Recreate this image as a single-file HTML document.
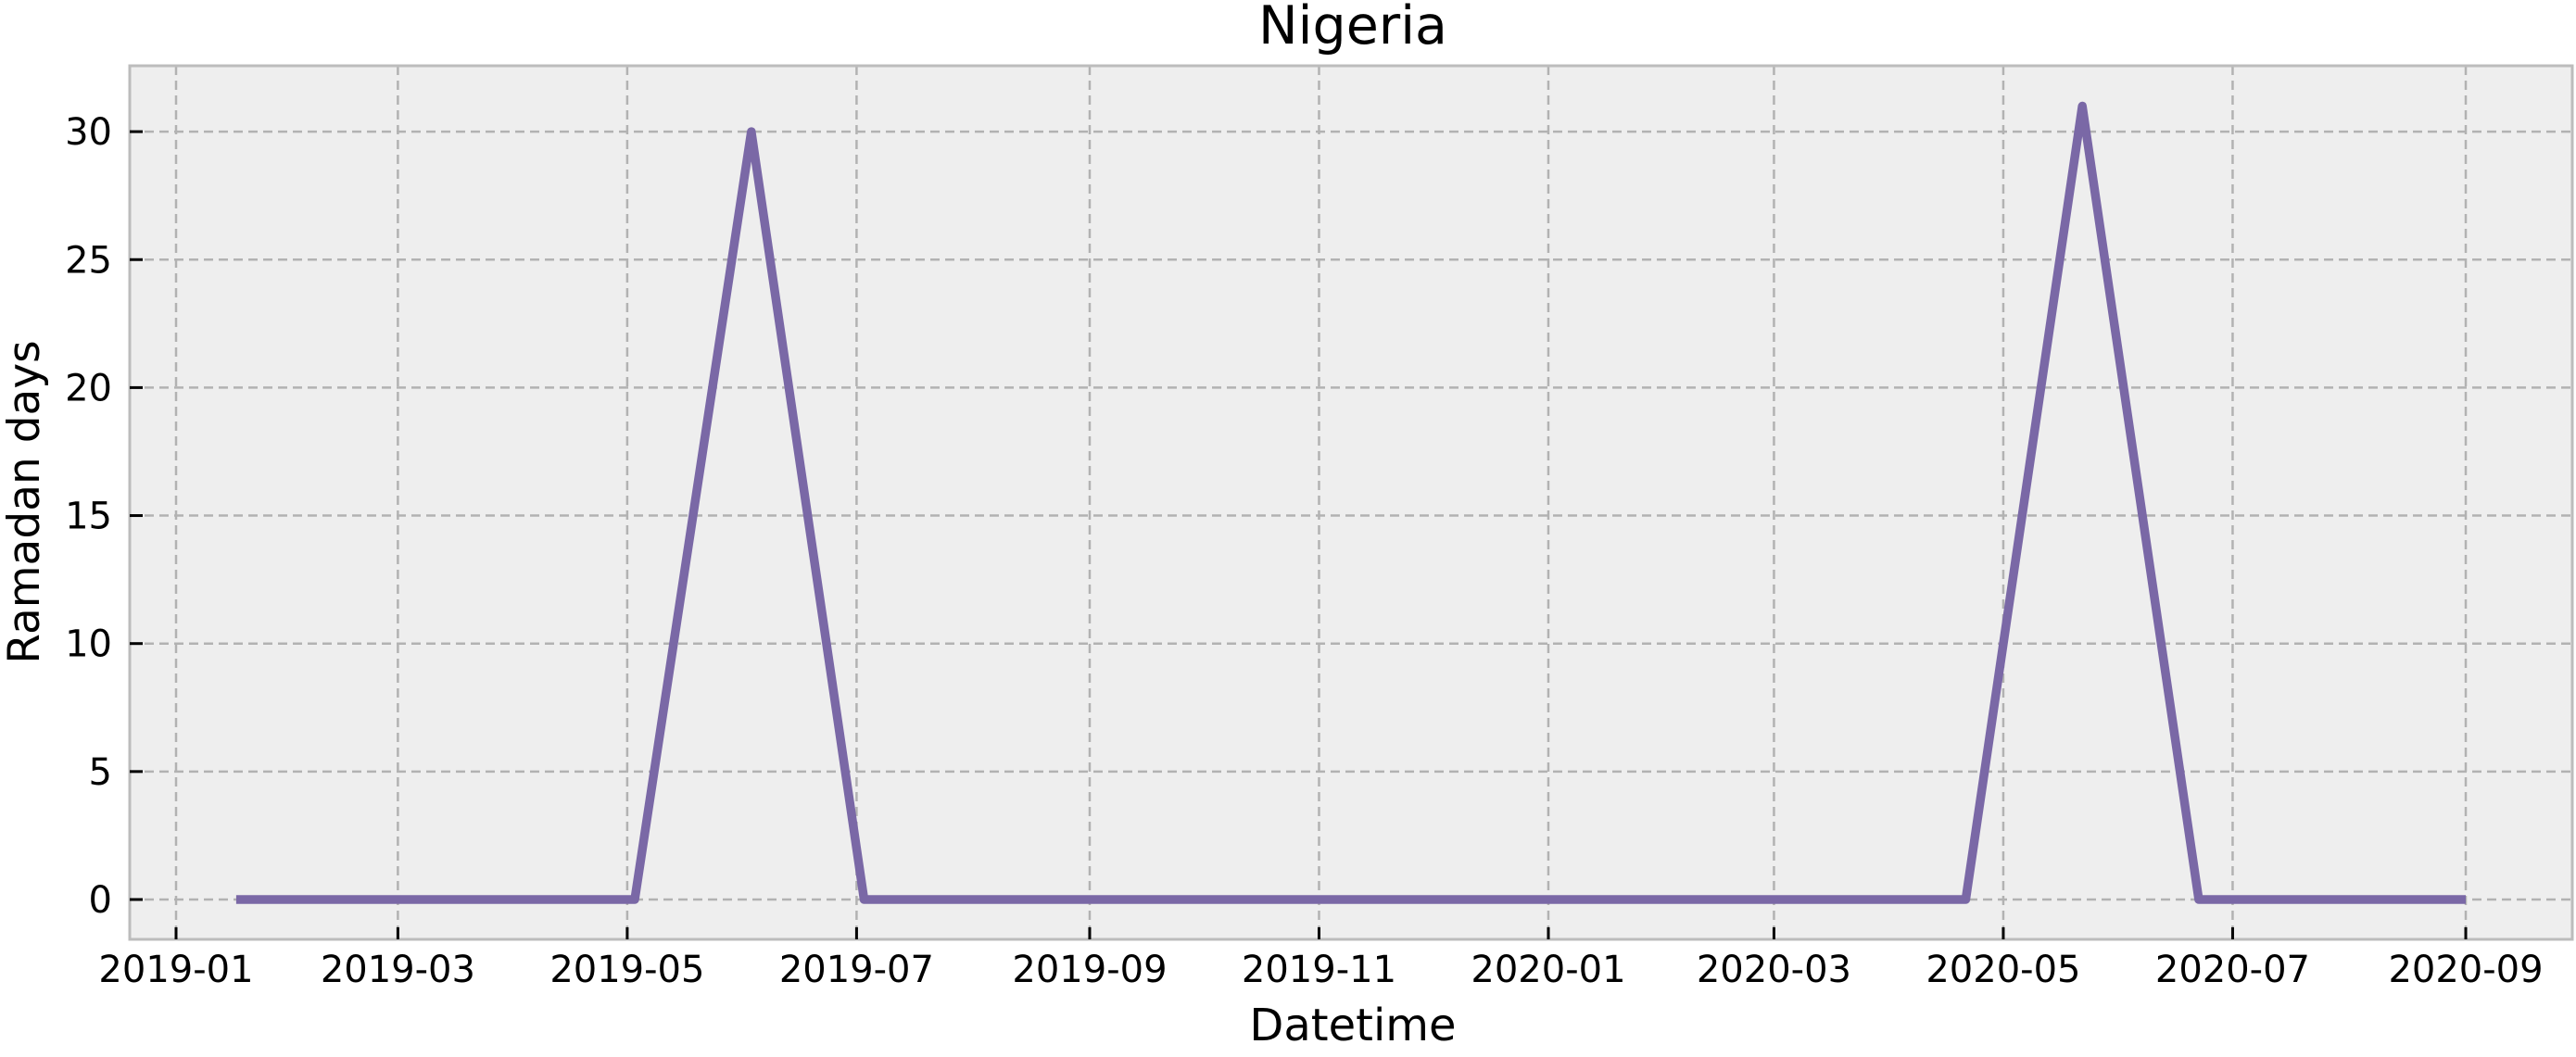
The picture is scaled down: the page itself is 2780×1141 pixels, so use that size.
<!DOCTYPE html>
<html><head><meta charset="utf-8"><style>
html,body{margin:0;padding:0;background:#fff;}
svg{display:block;font-family:"DejaVu Sans","Liberation Sans",sans-serif;}
</style></head><body>
<svg id="chart" width="2780" height="1141" viewBox="0 0 2780 1141" xmlns="http://www.w3.org/2000/svg">
<rect x="140" y="71" width="2636" height="943" fill="#eeeeee"/>
<g id="grid"></g>
<g id="series"></g>
<rect x="140" y="71" width="2636" height="943" fill="none" stroke="#bcbcbc" stroke-width="3"/>
<g id="ticks"></g>
<text x="1460" y="47" font-size="57" text-anchor="middle" fill="#000">Nigeria</text>
<text x="1460" y="1123" font-size="48" text-anchor="middle" fill="#000">Datetime</text>
<text x="0" y="0" font-size="47" text-anchor="middle" fill="#000" transform="translate(42,542) rotate(-90)">Ramadan days</text>
</svg>
<script>
const dates = ["2019-01-17","2019-05-03","2019-06-03","2019-07-03","2020-04-21","2020-05-22","2020-06-22","2020-09-01"];
const values = [0,0,30,0,0,31,0,0];
const xTickLabels = ["2019-01","2019-03","2019-05","2019-07","2019-09","2019-11","2020-01","2020-03","2020-05","2020-07","2020-09"];
const yTickValues = [0,5,10,15,20,25,30];

const NS="http://www.w3.org/2000/svg";
const L=140,R=2776,T=71,B=1014;
const t0=Date.UTC(2019,0,1), pxPerDay=4.0575, x0=190;
function xs(d){const p=d.split("-").map(Number);const t=Date.UTC(p[0],p[1]-1,p[2]||1);return x0+(t-t0)/86400000*pxPerDay;}
function ys(v){return 971-v*27.63;}
function mk(tag,attrs,parent){const e=document.createElementNS(NS,tag);for(const k in attrs)e.setAttribute(k,attrs[k]);parent.appendChild(e);return e;}
const grid=document.getElementById("grid"),ticks=document.getElementById("ticks"),series=document.getElementById("series");
xTickLabels.forEach(lbl=>{
  const x=xs(lbl);
  const g=mk("line",{x1:x,x2:x,y1:T,y2:B,stroke:"#b2b2b2","stroke-width":2.5,"stroke-dasharray":"10,6"},grid);
  
  
  const tk=mk("line",{x1:x,x2:x,y1:B,y2:B-13,stroke:"#000","stroke-width":3},ticks);
  
  
  const tx=mk("text",{x:x,y:1060,"font-size":40,"text-anchor":"middle",fill:"#000"},ticks);
  tx.textContent=lbl;
  
  
});
yTickValues.forEach(v=>{
  const y=ys(v);
  const g=mk("line",{x1:L,x2:R,y1:y,y2:y,stroke:"#b2b2b2","stroke-width":2.5,"stroke-dasharray":"10,6"},grid);
  
  
  const tk=mk("line",{x1:L,x2:L+14,y1:y,y2:y,stroke:"#000","stroke-width":3},ticks);
  
  
  const tx=mk("text",{x:121,y:y+14,"font-size":40,"text-anchor":"end",fill:"#000"},ticks);
  tx.textContent=String(v);
  
  
});
const pts=dates.map((d,i)=>xs(d).toFixed(1)+","+ys(values[i]).toFixed(1)).join(" ");
const line=mk("polyline",{points:pts,fill:"none",stroke:"#7a68a6","stroke-width":9.5,"stroke-linejoin":"round","stroke-linecap":"butt"},series);


</script>
</body></html>
